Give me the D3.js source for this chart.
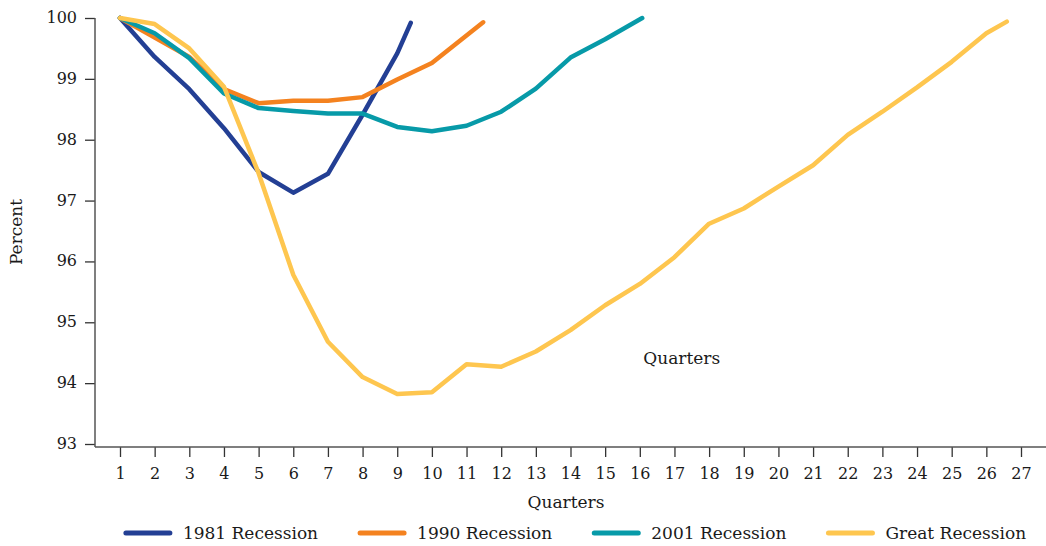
<!DOCTYPE html>
<html>
<head>
<meta charset="utf-8">
<script src="https://cdn.jsdelivr.net/npm/d3@7"></script>
<style>
  body { margin: 0; background: #fff; }
  svg { display: block; font-family: "DejaVu Serif", serif; }
  .axis-line { stroke: #555; stroke-width: 1.5; fill: none; }
  .tick line { stroke: #333; stroke-width: 1.3; }
  .tick text { fill: #1a1a1a; font-size: 16px; font-family: "DejaVu Serif", serif; }
  .series { fill: none; stroke-width: 4.5; stroke-linejoin: round; stroke-linecap: round; }
  .label { fill: #1a1a1a; font-size: 17px; }
</style>
</head>
<body>
<svg id="chart" width="1046" height="546"></svg>
<script>
// Employment index (start of recession = 100), by quarter
var quarterTicks = [1, 2, 3, 4, 5, 6, 7, 8, 9, 10, 11, 12, 13, 14, 15, 16, 17, 18, 19, 20, 21, 22, 23, 24, 25, 26, 27];
var percentTicks = [93, 94, 95, 96, 97, 98, 99, 100];

var seriesNames = ['1981 Recession', '1990 Recession', '2001 Recession', 'Great Recession'];
var seriesColors = ['#233f94', '#f4821f', '#079aa8', '#fec64f'];

// values at quarters 1, 2, 3 ...
var values1981 = [100, 99.36, 98.83, 98.19, 97.47, 97.13, 97.44, 98.41, 99.42];
var values1990 = [100, 99.68, 99.36, 98.83, 98.60, 98.64, 98.64, 98.70, 98.99, 99.26];
var values2001 = [100, 99.75, 99.34, 98.76, 98.52, 98.47, 98.43, 98.43, 98.21, 98.14, 98.23, 98.46, 98.84, 99.35, 99.65];
var valuesGreat = [100, 99.90, 99.50, 98.87, 97.45, 95.78, 94.68, 94.10, 93.82, 93.85, 94.31, 94.27, 94.52, 94.87,
                   95.28, 95.63, 96.07, 96.62, 96.87, 97.23, 97.58, 98.08, 98.46, 98.86, 99.28, 99.75];

// where each line stops (quarter, value)
var end1981 = [9.39, 99.92];
var end1990 = [11.48, 99.93];
var end2001 = [16.07, 100.0];
var endGreat = [26.59, 99.94];

var annotation = {text: 'Quarters', quarter: 17.21, value: 94.31};

var svg = d3.select('#chart');
var margin = {left: 95, top: 18, right: 0, bottom: 99};
var width = 1046, height = 546;
var axisY = 447;

var x = d3.scaleLinear()
    .domain([1, 27])
    .range([120, 1021]);

var y = d3.scaleLinear()
    .domain([93, 100])
    .range([444, margin.top]);

function buildSeries(values, end) {
    var points = values.map(function (v, i) { return [i + 1, v]; });
    points.push(end);
    return points;
}

var series = [
    buildSeries(values1981, end1981),
    buildSeries(values1990, end1990),
    buildSeries(values2001, end2001),
    buildSeries(valuesGreat, endGreat)
];

// y axis
var yAxis = svg.append('g')
    .attr('transform', 'translate(' + margin.left + ',0)')
    .call(d3.axisLeft(y).tickValues(percentTicks).tickFormat(d3.format('d'))
        .tickSize(10).tickSizeOuter(0).tickPadding(8));
yAxis.select('.domain').remove();
yAxis.selectAll('.tick text').attr('dy', '0.28em');

svg.append('line')
    .attr('class', 'axis-line')
    .attr('x1', margin.left).attr('x2', margin.left)
    .attr('y1', margin.top).attr('y2', axisY);

// x axis
var xAxis = svg.append('g')
    .attr('transform', 'translate(0,' + axisY + ')')
    .call(d3.axisBottom(x).tickValues(quarterTicks).tickFormat(d3.format('d'))
        .tickSize(10).tickSizeOuter(0).tickPadding(11));
xAxis.select('.domain').remove();

svg.append('line')
    .attr('class', 'axis-line')
    .attr('x1', margin.left).attr('x2', width)
    .attr('y1', axisY).attr('y2', axisY);

// lines
var line = d3.line()
    .x(function (d) { return x(d[0]); })
    .y(function (d) { return y(d[1]); });

svg.selectAll('.series')
    .data(series)
  .enter()
  .append('path')
    .attr('class', 'series')
    .attr('stroke', function (d, i) { return seriesColors[i]; })
    .attr('d', line);

// titles
svg.append('text')
    .attr('class', 'label')
    .attr('transform', 'translate(22,232) rotate(-90)')
    .attr('text-anchor', 'middle')
    .text('Percent');

svg.append('text')
    .attr('class', 'label')
    .attr('x', 566)
    .attr('y', 508)
    .attr('text-anchor', 'middle')
    .text('Quarters');

svg.append('text')
    .attr('class', 'label')
    .attr('x', x(annotation.quarter))
    .attr('y', y(annotation.value))
    .attr('text-anchor', 'middle')
    .text(annotation.text);

// legend
var legend = svg.append('g').attr('transform', 'translate(0,533)');
var items = legend.selectAll('.legend-item')
    .data(seriesNames)
  .enter()
  .append('g')
    .attr('class', 'legend-item');

items.append('line')
    .attr('x1', 0).attr('x2', 44)
    .attr('y1', 0).attr('y2', 0)
    .attr('stroke', function (d, i) { return seriesColors[i]; })
    .attr('stroke-width', 5)
    .attr('stroke-linecap', 'round');

items.append('text')
    .attr('class', 'label')
    .attr('x', 57)
    .attr('y', 6)
    .text(function (d) { return d; });

var offsets = [];
var total = 0;
var gap = 42;
items.each(function (d, i) {
    var w = 57 + this.querySelector('text').getComputedTextLength();
    offsets.push(total);
    total += w + (i < seriesNames.length - 1 ? gap : 0);
});
var start = 576 - total / 2;
items.attr('transform', function (d, i) { return 'translate(' + (start + offsets[i]) + ',0)'; });
</script>
</body>
</html>
